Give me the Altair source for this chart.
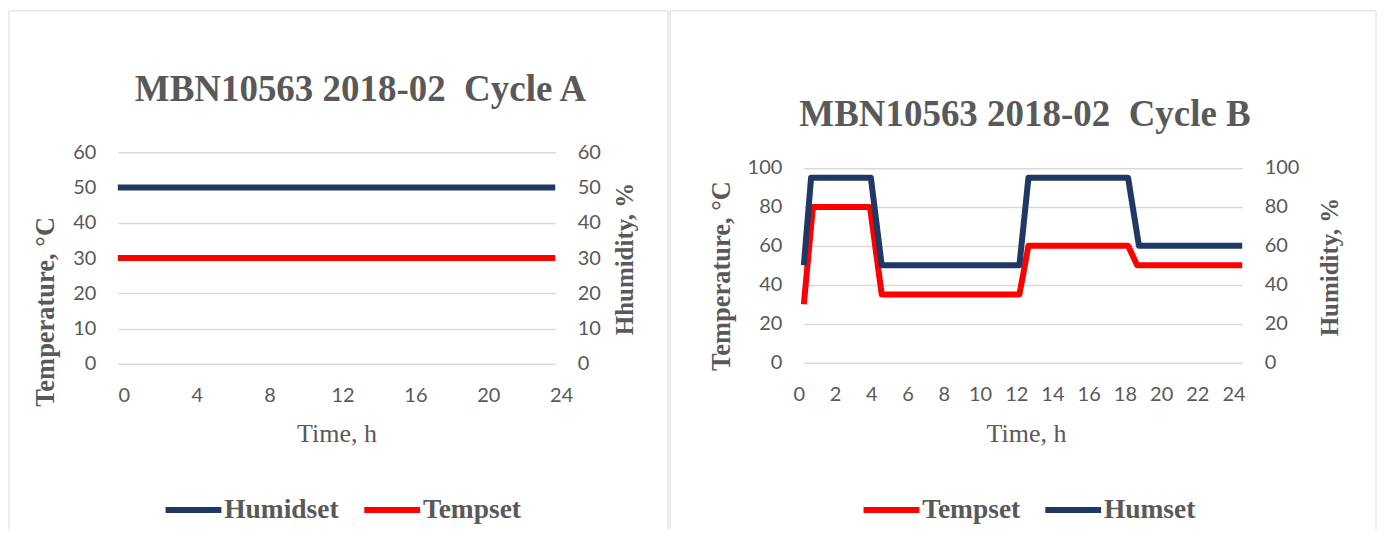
import altair as alt
import pandas as pd

# ---------------- data ----------------
# Cycle A (constant set points)
a_time = [0, 24]
a_temp = [30, 30]
a_hum = [50, 50]

# Cycle B
b_temp_time = [0, 0.5, 3.65, 4.3, 11.9, 12.4, 17.9, 18.4, 24.2]
b_temp = [30, 80, 80, 35, 35, 60, 60, 50, 50]
b_hum_time = [0, 0.4, 3.7, 4.3, 11.9, 12.4, 17.9, 18.5, 24.2]
b_hum = [50, 95, 95, 50, 50, 95, 95, 60, 60]

a_xticks = [0, 4, 8, 12, 16, 20, 24]
a_yticks = [0, 10, 20, 30, 40, 50, 60]
b_xticks = list(range(0, 25, 2))
b_yticks = [0, 20, 40, 60, 80, 100]

RED = "#ff0000"
NAVY = "#1f3864"
GREY = "#595959"
SERIF = "Liberation Serif"
SANS = "Lato"

dfA = pd.DataFrame(
    {"t": a_time + a_time, "v": a_temp + a_hum,
     "series": ["Tempset"] * len(a_time) + ["Humidset"] * len(a_time)}
)
dfB = pd.DataFrame(
    {"t": b_temp_time + b_hum_time, "v": b_temp + b_hum,
     "series": ["Tempset"] * len(b_temp_time) + ["Humset"] * len(b_hum_time)}
)
one = pd.DataFrame({"a": [0]})


def frame_rules(left, right, top, bottom):
    c = alt.Chart(one)
    st = dict(color="#d9d9d9", strokeWidth=1)
    return [
        c.mark_rule(**st).encode(x=alt.value(left), x2=alt.value(right), y=alt.value(top), y2=alt.value(top)),
        c.mark_rule(**st).encode(x=alt.value(left), x2=alt.value(left), y=alt.value(top), y2=alt.value(bottom)),
        c.mark_rule(**st).encode(x=alt.value(right), x2=alt.value(right), y=alt.value(top), y2=alt.value(bottom)),
    ]


def panel(df, width, height, xdomain, xticks, xlabel_offset, yticks, ydomain,
          ltitle, lx, ly, rtitle, rx, ry, xtx, xty, order, colors,
          legx, legy, title, toff, tdx, rules):
    xaxis = alt.Axis(values=xticks, title="Time, h", grid=False, domain=False, ticks=False,
                     tickSize=0, labelPadding=22, labelOffset=xlabel_offset, labelFlush=False,
                     labelOverlap=False, titleFont=SERIF, titleFontSize=26,
                     titleFontWeight="normal", titleColor=GREY, titleX=xtx, titleY=xty,
                     titleAlign="center", titleBaseline="alphabetic", titleAnchor="start")
    x = alt.X("t:Q", scale=alt.Scale(domain=xdomain, nice=False, zero=False), axis=xaxis)
    color = alt.Color(
        "series:N",
        scale=alt.Scale(domain=order, range=colors),
        legend=alt.Legend(orient="none", legendX=legx, legendY=legy, direction="horizontal",
                          title=None, symbolType="M-5,0H5", symbolSize=125, symbolStrokeWidth=6,
                          labelFont=SERIF, labelFontSize=27.5, labelFontWeight="bold",
                          labelColor=GREY, labelOffset=17, columnPadding=12, padding=0,
                          labelLimit=0),
    )
    yl = alt.Y("v:Q", scale=alt.Scale(domain=ydomain, nice=False),
               axis=alt.Axis(values=yticks, title=ltitle, orient="left", grid=True, domain=False,
                             ticks=False, tickSize=0, labelPadding=22, titleFont=SERIF,
                             titleFontSize=26.5, titleFontWeight="bold", titleColor=GREY,
                             titleAngle=270, titleX=lx, titleY=ly, titleAlign="center",
                             titleBaseline="alphabetic"))
    yr = alt.Y("v:Q", scale=alt.Scale(domain=ydomain, nice=False),
               axis=alt.Axis(values=yticks, title=rtitle, orient="right", grid=False, domain=False,
                             ticks=False, tickSize=0, labelPadding=22, titleFont=SERIF,
                             titleFontSize=25, titleFontWeight="bold", titleColor=GREY,
                             titleAngle=270, titleX=rx, titleY=ry, titleAlign="center",
                             titleBaseline="alphabetic"))
    temp_series = [s for s in order if s.startswith("Temp")][0]
    hum_series = [s for s in order if s.startswith("Hum")][0]
    base = alt.Chart(df)
    temp = base.transform_filter(alt.datum.series == temp_series).mark_line(
        strokeWidth=6, strokeJoin="round").encode(x=x, y=yl, color=color)
    hum = base.transform_filter(alt.datum.series == hum_series).mark_line(
        strokeWidth=6, strokeJoin="round").encode(x=x, y=yr, color=color)
    return alt.layer(temp, hum, *rules).resolve_scale(y="independent").properties(
        width=width, height=height,
        title=alt.TitleParams(text=title, font=SERIF, fontSize=37, fontWeight="bold",
                              color=GREY, anchor="middle", frame="group",
                              baseline="alphabetic", offset=toff, dx=tdx),
    )


# panel A plot area: page x 117..555, y 151.5..363.5
pA = panel(dfA, 438, 212, [0, 24], a_xticks, 6, a_yticks, [0, 60],
           "Temperature, °C", -64, 159.5, "Hhumidity, %", 77, 106.5,
           219, 78, ["Humidset", "Tempset"], [NAVY, RED],
           62, 344.3, "MBN10563 2018-02\u00a0 Cycle A", -128, 24,
           frame_rules(-109, 551, -141.5, 377.5))

# panel B plot area: page x 803..1242, y 151.5..362.3 (100 % line at 167.3)
pB = panel(dfB, 439, 210.8, [0, 24.2], b_xticks, -5, b_yticks, [0, 108.1],
           "Temperature, °C", -74.5, 123.5, "Humidity, %", 95.5, 114.5,
           222.5, 79, ["Tempset", "Humset"], [RED, NAVY],
           74, 344.3, "MBN10563 2018-02\u00a0 Cycle B", -153, 2,
           frame_rules(-134, 573, -141.5, 377.5))

chart = (
    alt.hconcat(pA, pB, spacing=0)
    .resolve_scale(color="independent")
    .resolve_legend(color="independent")
    .configure_view(stroke=None)
    .configure_axis(labelFont=SANS, labelFontSize=20, labelColor=GREY,
                    gridColor="#d9d9d9", gridWidth=1.5)
    .properties(padding={"top": 2, "left": 0, "right": 0, "bottom": 0}, background="white")
)

chart.save("out.html", embed_options={"renderer": "svg", "actions": False})
